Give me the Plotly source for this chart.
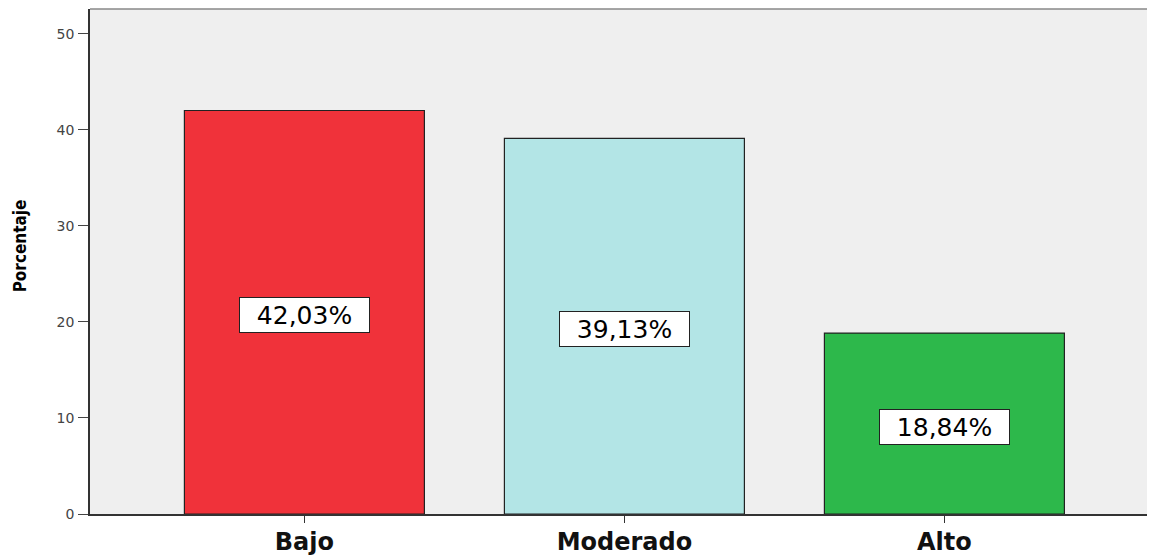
import plotly.graph_objects as go

categories = ["Bajo", "Moderado", "Alto"]
values = [42.03, 39.13, 18.84]
labels = ["42,03%", "39,13%", "18,84%"]
colors = ["#F0323A", "#B3E5E6", "#2DB84B"]
y_ticks = [0, 10, 20, 30, 40, 50]

FONT = "DejaVu Sans, Liberation Sans, Arial, sans-serif"

fig = go.Figure()
fig.add_trace(go.Bar(
    x=list(range(len(categories))), y=values, width=0.75,
    marker=dict(color=colors, line=dict(color="#222222", width=1.2)),
    hoverinfo="skip",
))
for i, (v, t) in enumerate(zip(values, labels)):
    fig.add_annotation(x=i, y=v / 2, yshift=-3, text=t, showarrow=False,
                       font=dict(family=FONT, size=25, color="black"),
                       width=127, height=32,
                       bgcolor="white", bordercolor="#222222", borderwidth=1, borderpad=1)

fig.add_annotation(xref="paper", yref="paper", x=0, y=0.53, xshift=-70, xanchor="center",
                   yanchor="middle", textangle=-90, showarrow=False,
                   text="<b>Porcentaje</b>",
                   font=dict(family="DejaVu Sans Condensed, Liberation Sans Narrow, sans-serif",
                             size=17, color="black"))

# page body has an 8px margin, so the figure is sized to fit the window
fig.update_layout(
    width=1147, height=547,
    margin=dict(l=82, r=1, t=1, b=41),
    paper_bgcolor="white", plot_bgcolor="#EFEFEF",
    showlegend=False,
    xaxis=dict(range=[-0.67, 2.655], tickmode="array", tickvals=list(range(len(categories))),
               ticktext=categories, ticks="outside", ticklen=7, tickcolor="#333333",
               showgrid=False, zeroline=False, showline=True, linecolor="#333333", linewidth=1.5,
               tickfont=dict(family=FONT, size=24, color="#111111", weight="bold"),
               automargin=False, ticklabelstandoff=-2),
    yaxis=dict(range=[0, 52.6], tickvals=y_ticks, ticks="outside", ticklen=10, tickcolor="#444444",
               showgrid=False, zeroline=False, showline=True, linecolor="#333333", linewidth=1.5,
               tickfont=dict(family=FONT, size=14, color="#444444"),
               automargin=False, ticklabelstandoff=1),
)
fig.add_shape(type="line", xref="paper", yref="paper", x0=0, x1=1, y0=1, y1=1,
              line=dict(color="#888888", width=1.5))
fig.add_shape(type="line", xref="paper", yref="paper", x0=1, x1=1, y0=0, y1=1,
              line=dict(color="#999999", width=1.2))
fig.write_html("out.html")
